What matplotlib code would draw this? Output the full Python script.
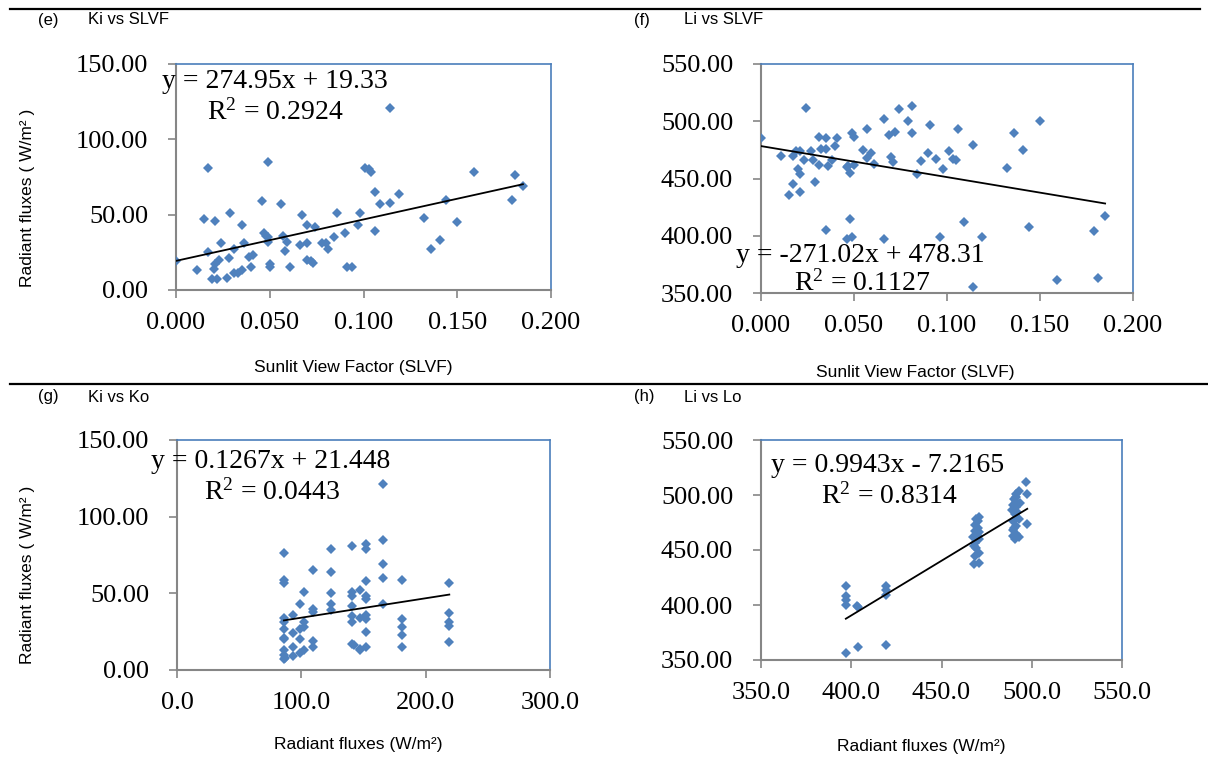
import numpy as np
import matplotlib
matplotlib.use("Agg")
from matplotlib import pyplot as plt
from matplotlib.lines import Line2D
from matplotlib.ticker import FormatStrFormatter, MultipleLocator

# (e) Ki vs SLVF
slvf_e = [0.000, 0.011, 0.017, 0.015, 0.017, 0.019, 0.022, 0.020, 0.021, 0.023,
          0.021, 0.024, 0.027, 0.028, 0.029, 0.031, 0.031, 0.033, 0.035, 0.035,
          0.036, 0.039, 0.041, 0.040, 0.046, 0.047, 0.048, 0.049, 0.049, 0.049,
          0.050, 0.050, 0.056, 0.057, 0.059, 0.058, 0.061, 0.066, 0.067, 0.070,
          0.070, 0.070, 0.072, 0.073, 0.074, 0.078, 0.080, 0.081, 0.084, 0.086,
          0.090, 0.091, 0.094, 0.097, 0.098, 0.101, 0.103, 0.104, 0.106, 0.106,
          0.109, 0.114, 0.114, 0.119, 0.132, 0.136, 0.141, 0.144, 0.150, 0.159,
          0.179, 0.181, 0.185]
ki_e = [19, 13, 81, 47, 25, 7, 7, 14, 17, 20,
        46, 31, 8, 21, 51, 27, 11, 11, 13, 43,
        31, 22, 23, 15, 59, 38, 36, 85, 35, 32,
        17, 15, 57, 36, 32, 26, 15, 30, 50, 43,
        31, 20, 19, 18, 42, 31, 31, 27, 35, 51,
        38, 15, 15, 43, 51, 81, 80, 78, 65, 39,
        57, 58, 121, 64, 48, 27, 33, 60, 45, 78,
        60, 76, 69]

# (f) Li vs SLVF
slvf_f = [0.000, 0.011, 0.015, 0.017, 0.017, 0.019, 0.020, 0.021, 0.021, 0.021,
          0.023, 0.024, 0.027, 0.028, 0.029, 0.031, 0.031, 0.032, 0.035, 0.035,
          0.035, 0.036, 0.038, 0.040, 0.041, 0.046, 0.047, 0.048, 0.048, 0.046,
          0.049, 0.050, 0.049, 0.050, 0.055, 0.057, 0.057, 0.059, 0.061, 0.066,
          0.066, 0.069, 0.070, 0.071, 0.072, 0.074, 0.079, 0.081, 0.081, 0.084,
          0.086, 0.090, 0.091, 0.094, 0.096, 0.098, 0.101, 0.103, 0.105, 0.106,
          0.109, 0.114, 0.114, 0.119, 0.132, 0.136, 0.141, 0.144, 0.150, 0.159,
          0.179, 0.181, 0.185]
li_f = [485, 470, 436, 445, 470, 474, 458, 454, 438, 474,
        466, 512, 474, 466, 447, 486, 462, 476, 476, 485,
        405, 461, 466, 478, 485, 460, 461, 455, 415, 397,
        490, 486, 399, 462, 475, 493, 468, 472, 463, 502,
        397, 488, 469, 464, 491, 511, 500, 490, 513, 454,
        465, 472, 497, 467, 399, 458, 474, 467, 466, 493,
        412, 479, 355, 399, 459, 490, 475, 408, 500, 361,
        404, 363, 417]

# (g) Ki vs Ko
ko_g = [86, 86, 86, 86, 86, 86, 86, 86, 86, 86, 86, 87,
        93, 93, 93, 93,
        99, 99, 99, 99, 102, 102, 102, 102,
        109, 109, 109, 109, 109,
        124, 124, 124, 124, 124,
        141, 141, 141, 141, 141, 141, 141, 142,
        147, 147, 147, 147,
        152, 152, 152, 152, 152, 152, 152, 152, 152,
        166, 166, 166, 166, 166,
        181, 181, 181, 181, 181,
        219, 219, 219, 219, 219]
ki_g = [76, 59, 57, 34, 31, 27, 21, 20, 13, 10, 7, 8,
        36, 24, 15, 9,
        43, 27, 20, 11, 51, 31, 28, 13,
        65, 40, 38, 19, 15,
        79, 64, 50, 43, 39,
        81, 51, 48, 42, 35, 31, 17, 16,
        52, 34, 14, 13,
        82, 79, 58, 48, 46, 36, 33, 25, 15,
        121, 85, 69, 60, 43,
        59, 33, 28, 23, 15,
        57, 37, 31, 29, 18]

# (h) Li vs Lo
lo_h = [397, 397, 397, 397, 397,
        403, 404, 404,
        419, 419, 419, 419,
        470.5, 470, 468.5, 470, 468.5, 470, 467.5, 470.5, 468.5, 468, 470.5, 468.5,
        468, 471, 469, 471, 469,
        497, 497.5, 497.5, 493, 491.5, 490, 493.5, 489.7, 491.5, 489, 490.5, 493,
        489.5, 491.5, 489.5, 491.5, 489.5, 490.5, 491, 492, 490, 493, 491.5]
li_h = [417, 408, 405, 400, 356,
        399, 398, 362,
        417, 414, 409, 364,
        480, 476, 473, 470, 467, 463, 462, 460, 456, 454, 447, 444.5,
        437, 438.5, 478, 466, 452,
        512, 501, 474, 504, 501, 496, 493, 491, 489, 486, 483, 478,
        476, 472, 468, 465, 463, 460, 498, 485, 470, 462, 494]

# trendlines (slope, intercept) as printed on the chart
fit_e = (274.95, 19.33)
fit_f = (-271.02, 478.31)
fit_g = (0.1267, 21.448)
fit_h = (0.9943, -7.2165)

W, H = 1208, 760
BLUE = "#4f81bd"
BORDER = "#4a7ebb"
GREY = "#868686"
SERIF = ["Liberation Serif", "DejaVu Serif"]
NARROW = ["Liberation Sans Narrow", "Liberation Sans", "DejaVu Sans"]

plt.rcParams["mathtext.fontset"] = "custom"
plt.rcParams["mathtext.rm"] = "Liberation Serif"
plt.rcParams["mathtext.it"] = "Liberation Serif:italic"

fig = plt.figure(figsize=(W / 100, H / 100), dpi=100)


def add_ax(l, t, r, b):
    return fig.add_axes([l / W, 1 - b / H, (r - l) / W, (b - t) / H])


def fig_text(x, y, s, **kw):
    fig.text(x / W, 1 - y / H, s, **kw)


def panel(ax, x, y, fit, xlim, xstep, xfmt, ylim, ystep, yfmt):
    ax.plot(x, y, "D", color=BLUE, ms=5.6, mew=0, zorder=3)
    xs = np.array([min(x), max(x)])
    ax.plot(xs, fit[0] * xs + fit[1], color="black", lw=1.3, zorder=4)
    ax.set_xlim(*xlim)
    ax.set_ylim(*ylim)
    ax.xaxis.set_major_locator(MultipleLocator(xstep))
    ax.yaxis.set_major_locator(MultipleLocator(ystep))
    ax.xaxis.set_major_formatter(FormatStrFormatter(xfmt))
    ax.yaxis.set_major_formatter(FormatStrFormatter(yfmt))
    for side in ["top", "right"]:
        ax.spines[side].set_color(BORDER)
        ax.spines[side].set_linewidth(1.2)
    for side in ["left", "bottom"]:
        ax.spines[side].set_color(GREY)
        ax.spines[side].set_linewidth(1.5)
    ax.tick_params(direction="out", length=6, width=1.2, color=GREY)
    ax.tick_params(axis="y", pad=14)
    ax.tick_params(axis="x", pad=10)
    for lab in ax.get_xticklabels() + ax.get_yticklabels():
        lab.set_family(SERIF)
        lab.set_fontsize(19)
    ax.set_facecolor("white")


ax_e = add_ax(176, 64, 551, 290)
panel(ax_e, slvf_e, ki_e, fit_e, (0, 0.2), 0.05, "%.3f", (0, 150), 50, "%.2f")
ax_f = add_ax(761, 64, 1133, 293)
panel(ax_f, slvf_f, li_f, fit_f, (0, 0.2), 0.05, "%.3f", (350, 550), 50, "%.2f")
ax_g = add_ax(177, 440, 550, 670)
panel(ax_g, ko_g, ki_g, fit_g, (0, 300), 100, "%.1f", (0, 150), 50, "%.2f")
ax_h = add_ax(761, 440, 1122, 660)
panel(ax_h, lo_h, li_h, fit_h, (350, 550), 50, "%.1f", (350, 550), 50, "%.2f")

# equations
eq = dict(family=SERIF, fontsize=20, va="center", ha="left")
fig_text(162, 82, "y = 274.95x + 19.33", **eq)
fig_text(207, 112, "R$^2$ = 0.2924", **eq)
fig_text(736, 255, "y = -271.02x + 478.31", **eq)
fig_text(794, 283, "R$^2$ = 0.1127", **eq)
fig_text(151, 462, "y = 0.1267x + 21.448", **eq)
fig_text(204, 492, "R$^2$ = 0.0443", **eq)
fig_text(771, 466, "y = 0.9943x - 7.2165", **eq)
fig_text(821, 496, "R$^2$ = 0.8314", **eq)

# panel titles
tt = dict(family=NARROW, fontsize=12, va="center", ha="left")
for (px, py, tag, name) in [(38, 20, "(e)", "Ki vs SLVF"), (634, 20, "(f)", "Li vs SLVF"),
                            (38, 397, "(g)", "Ki vs Ko"), (634, 397, "(h)", "Li vs Lo")]:
    fig_text(px, py, tag, **tt)
    fig_text(px + 50, py, name, **tt)

# axis labels
lab = dict(family=NARROW, fontsize=12.5, va="center", ha="center")
fig_text(353, 368, "Sunlit View Factor (SLVF)", **lab)
fig_text(915, 372, "Sunlit View Factor (SLVF)", **lab)
fig_text(358, 745, "Radiant fluxes (W/m²)", **lab)
fig_text(921, 746, "Radiant fluxes (W/m²)", **lab)
fig_text(28, 198, "Radiant fluxes ( W/m² )", rotation=90, **lab)
fig_text(28, 575, "Radiant fluxes ( W/m² )", rotation=90, **lab)

# separator rules
fig.add_artist(Line2D([10 / W, 1200 / W], [1 - 9 / H, 1 - 9 / H], color="black", lw=1.6))
fig.add_artist(Line2D([10 / W, 1.0], [1 - 384 / H, 1 - 384 / H], color="black", lw=1.6))

fig.savefig("out.png", dpi=100, facecolor="white")
